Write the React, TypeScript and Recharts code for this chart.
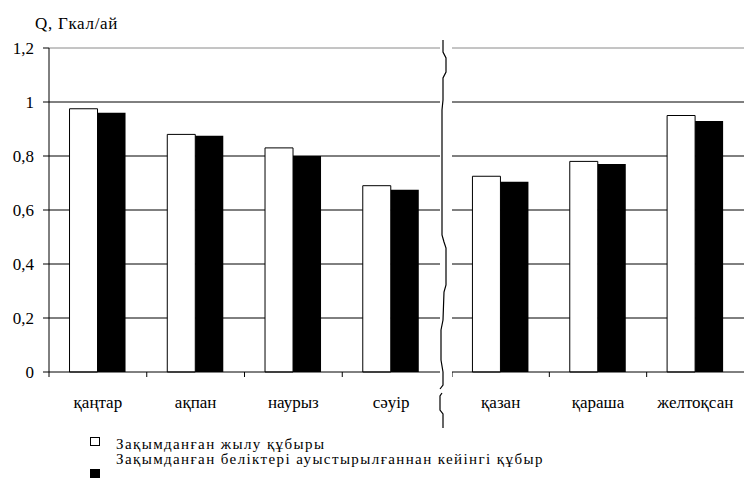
import React from "react";
import {
  BarChart,
  Bar,
  XAxis,
  YAxis,
  CartesianGrid,
  ReferenceLine,
} from "recharts";

// Heating season, split in two halves with a break between them
const monthsSpring = ["қаңтар", "ақпан", "наурыз", "сәуір"];
const damagedSpring = [0.975, 0.88, 0.83, 0.69];
const replacedSpring = [0.96, 0.875, 0.8, 0.675];

const monthsAutumn = ["қазан", "қараша", "желтоқсан"];
const damagedAutumn = [0.725, 0.78, 0.95];
const replacedAutumn = [0.705, 0.77, 0.93];

const yTicks = [0, 0.2, 0.4, 0.6, 0.8, 1, 1.2];
const gridValues = [0.2, 0.4, 0.6, 0.8, 1];
const seriesNames = [
  "Зақымданған жылу құбыры",
  "Зақымданған беліктері ауыстырылғаннан кейінгі құбыр",
];
const yTitle = "Q, Гкал/ай";

const FONT = "Liberation Serif, DejaVu Serif, serif";
const FONT_SIZE = 17;
const LEGEND_SIZE = 15;

const build = (months: string[], damaged: number[], replaced: number[]) =>
  months.map((m, i) => ({ month: m, damaged: damaged[i], replaced: replaced[i] }));

const springData = build(monthsSpring, damagedSpring, replacedSpring);
const autumnData = build(monthsAutumn, damagedAutumn, replacedAutumn);

const fmt = (v: number) => String(v).replace(".", ",");

// category label with the tick mark on the left edge of its band
const MonthTick = (props: any) => {
  const { x, y, payload } = props;
  const half = payload && payload.offset ? payload.offset : 48.9;
  const left = x - half;
  return (
    <g>
      <line x1={left} x2={left} y1={y} y2={y + 5} stroke="#000" />
      <text
        x={x}
        y={y + 36}
        textAnchor="middle"
        fill="#000"
        fontSize={FONT_SIZE}
        fontFamily={FONT}
      >
        {payload.value}
      </text>
    </g>
  );
};

const CHART_H = 420;
const MARGIN = { top: 48, right: 0, left: 0, bottom: 0 };

const Half = ({ data, withAxis, width }: { data: any[]; withAxis: boolean; width: number }) => (
  <BarChart
    width={width}
    height={CHART_H}
    data={data}
    margin={MARGIN}
    barCategoryGap="21%"
    barGap={0}
  >
    <CartesianGrid vertical={false} horizontalValues={gridValues} stroke="#000" />
    <ReferenceLine y={1.2} stroke="#8a8a8a" ifOverflow="extendDomain" />
    <XAxis
      dataKey="month"
      height={48}
      axisLine={{ stroke: "#000" }}
      tickLine={false}
      tickSize={0}
      tickMargin={0}
      tick={<MonthTick />}
      interval={0}
    />
    <YAxis
      hide={!withAxis}
      width={49}
      domain={[0, 1.2]}
      ticks={yTicks}
      tickFormatter={fmt}
      axisLine={{ stroke: "#000" }}
      tickLine={{ stroke: "#000" }}
      tickSize={6}
      tickMargin={9}
      tick={{ fill: "#000", fontSize: FONT_SIZE, fontFamily: FONT }}
    />
    <Bar dataKey="damaged" fill="#fff" stroke="#000" strokeWidth={1} isAnimationActive={false} />
    <Bar dataKey="replaced" fill="#000" isAnimationActive={false} />
  </BarChart>
);

const textStyle: React.CSSProperties = {
  position: "absolute",
  fontFamily: FONT,
  color: "#000",
  whiteSpace: "nowrap",
};

const legendText: React.CSSProperties = {
  ...textStyle,
  left: 116,
  fontSize: LEGEND_SIZE,
  lineHeight: "14px",
  letterSpacing: 1.4,
};

export default function App() {
  return (
    <div
      style={{
        position: "absolute",
        left: 0,
        top: 0,
        width: 744,
        height: 478,
        background: "#fff",
        overflow: "hidden",
      }}
    >
      <div
        style={{
          ...textStyle,
          left: 35,
          top: 15,
          fontSize: FONT_SIZE,
          lineHeight: "17px",
          letterSpacing: 0.7,
        }}
      >
        {yTitle}
      </div>

      <div style={{ position: "absolute", left: 0, top: 0 }}>
        <Half data={springData} withAxis width={440} />
      </div>
      <div style={{ position: "absolute", left: 452, top: 0 }}>
        <Half data={autumnData} withAxis={false} width={292} />
      </div>

      {/* axis break */}
      <svg
        width={744}
        height={478}
        style={{ position: "absolute", left: 0, top: 0, pointerEvents: "none" }}
      >
        <path
          d="M443,40 L443,52 L446,58 L446,72 L443,78 L443,100 L442,110 L442,235 L444,242 L446,248 L446,285 L444,292 L443,320 L441,330 L441,360 L443,372 L443,385 L440,389 M442,393 L440,396 L440,410 L443,414 L443,428"
          fill="none"
          stroke="#000"
          strokeWidth={1.2}
        />
      </svg>

      {/* legend */}
      <div
        style={{
          position: "absolute",
          left: 90,
          top: 437,
          width: 8,
          height: 7,
          border: "1px solid #000",
          background: "#fff",
        }}
      />
      <div style={{ ...legendText, top: 437 }}>{seriesNames[0]}</div>
      <div style={{ ...legendText, top: 452 }}>{seriesNames[1]}</div>
      <div
        style={{
          position: "absolute",
          left: 90,
          top: 469,
          width: 10,
          height: 9,
          background: "#000",
        }}
      />
    </div>
  );
}
